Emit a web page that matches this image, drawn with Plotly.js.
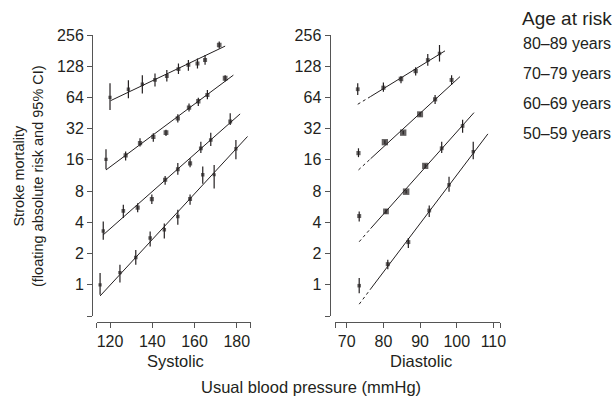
<!DOCTYPE html>
<html>
<head>
<meta charset="utf-8">
<script src="https://cdn.plot.ly/plotly-3.0.1.min.js"></script>
<style>html,body{margin:0;padding:0;background:#fff;}#chart{width:616px;height:397px;}</style>
</head>
<body>
<div id="chart"></div>
<script>
// ---------- Data ----------
var seriesNames = ["80–89 years", "70–79 years", "60–69 years", "50–59 years"];

// Systolic panel
var sysX_80 = [120, 128.7, 135.3, 141.3, 146.9, 152.4, 157.1, 161.4, 165, 171.7];
var sysY_80 = [64, 76.7, 85.8, 94.4, 103, 120, 132, 136, 147, 205];
var sysHi_80 = [87.6, 94, 105, 109, 118, 136, 147, 152, 164, 221];
var sysLo_80 = [48.5, 62.8, 70, 81.6, 91, 108, 116, 122, 132, 190];

var sysX_70 = [118.1, 127.4, 134.2, 140.5, 146.5, 152.1, 157.4, 161.8, 166.1, 174.5];
var sysY_70 = [16.2, 17.7, 23.2, 26.7, 29.3, 40.3, 51, 58.8, 67.6, 98];
var sysHi_70 = [20.3, 19.3, 25.9, 28.9, 31.3, 44, 56, 63.6, 75.6, 105];
var sysLo_70 = [13.0, 15.8, 21.5, 24.0, 27.2, 36.6, 46.8, 53, 61.4, 91];

var sysX_60 = [116.8, 126.3, 133.1, 139.8, 146.1, 152.1, 157.9, 163, 167.7, 176.9];
var sysY_60 = [3.3, 5.16, 5.55, 6.7, 10.3, 13.0, 14.8, 20.7, 24.9, 37.5];
var sysHi_60 = [4.08, 5.9, 6.1, 7.4, 11.2, 14.9, 16.6, 24, 29.3, 45];
var sysLo_60 = [2.71, 4.4, 5.0, 6.0, 9.2, 11.5, 13.6, 18.6, 21.8, 34.8];

var sysX_50 = [115.3, 124.7, 132.2, 139, 145.7, 152.1, 157.9, 163.9, 169.3, 179.6];
var sysY_50 = [1.0, 1.31, 1.83, 2.82, 3.39, 4.55, 6.7, 11.5, 11.5, 20.5];
var sysHi_50 = [1.3, 1.56, 2.17, 3.27, 3.9, 5.3, 7.4, 13.8, 14.3, 24.9];
var sysLo_50 = [0.8, 1.05, 1.56, 2.34, 2.8, 3.8, 5.9, 9.4, 8.5, 16.2];

// Systolic fitted lines (start, end)
var sysFitX_80 = [120.3, 174.5], sysFitY_80 = [59.6, 200];
var sysFitX_70 = [118.1, 178.4], sysFitY_70 = [12.8, 105];
var sysFitX_60 = [116.8, 181.6], sysFitY_60 = [3.03, 44.4];
var sysFitX_50 = [115.3, 185.1], sysFitY_50 = [0.78, 26.9];

// Diastolic panel
var diaX_80 = [73.0, 80.0, 84.8, 88.8, 92.1, 95.3];
var diaY_80 = [76.8, 79.4, 96.5, 115, 147, 170];
var diaHi_80 = [87.7, 89, 103, 125, 168, 205];
var diaLo_80 = [67.6, 72.8, 87.7, 104, 129, 142];

var diaX_70 = [73.2, 80.4, 85.4, 90.0, 94.1, 98.6];
var diaY_70 = [18.6, 23.7, 29.3, 44, 61.4, 94.4];
var diaHi_70 = [20.7, 24.7, 30.5, 46, 67.6, 105];
var diaLo_70 = [17, 22.7, 28.1, 42, 55.4, 84.4];

var diaX_60 = [73.4, 80.7, 86.2, 91.4, 95.9, 101.6];
var diaY_60 = [4.6, 5.1, 7.9, 14.0, 20.7, 34];
var diaHi_60 = [5.1, 5.35, 8.2, 14.6, 24, 38.9];
var diaLo_60 = [4.08, 4.85, 7.6, 13.4, 18.6, 29.3];

var diaX_50 = [73.4, 81.2, 86.8, 92.5, 97.9, 104.5];
var diaY_50 = [0.98, 1.58, 2.58, 5.2, 9.2, 19.2];
var diaHi_50 = [1.16, 1.74, 2.82, 5.8, 11, 24];
var diaLo_50 = [0.83, 1.41, 2.26, 4.5, 7.9, 16.2];

// Diastolic fitted lines (dashed start, solid start, end)
var diaFitX_80 = [73.0, 76.5, 96.8], diaFitY_80 = [55, 65.3, 180];
var diaFitX_70 = [73.2, 76.5, 100.9], diaFitY_70 = [12.8, 16.4, 101.6];
var diaFitX_60 = [73.4, 76.5, 104.7], diaFitY_60 = [2.6, 3.48, 45.7];
var diaFitX_50 = [73.4, 76.5, 108.5], diaFitY_50 = [0.65, 0.91, 28.5];

// Tick labels
var yTickVals = [0.5, 1, 2, 4, 8, 16, 32, 64, 128, 256];
var yTickText = ["", "1", "2", "4", "8", "16", "32", "64", "128", "256"];
var sysTickVals = [113.7, 120, 140, 160, 180, 186.6];
var sysTickText = ["", "120", "140", "160", "180", ""];
var diaTickVals = [66.8, 70, 80, 90, 100, 110, 111.8];
var diaTickText = ["", "70", "80", "90", "100", "110", ""];

// ---------- Build ----------
var W = 616, H = 397;
function fx(px) { return px / W; }
function fy(py) { return 1 - py / H; }
var INK = "#231f20";
var FONT = "Liberation Sans, Arial, Helvetica, sans-serif";

function sizes(hi, lo) {
  return hi.map(function (h, i) {
    var w = Math.log2(h / lo[i]);
    var s = 2.6 + 0.45 / Math.max(w, 0.01);
    return Math.max(3.2, Math.min(6.5, s));
  });
}

function pointTrace(x, y, hi, lo, xa, ya) {
  return {
    type: "scatter", mode: "markers", x: x, y: y, xaxis: xa, yaxis: ya,
    marker: { symbol: "square", color: INK, size: sizes(hi, lo), line: { width: 0 } },
    error_y: {
      type: "data", symmetric: false,
      array: hi.map(function (h, i) { return h - y[i]; }),
      arrayminus: lo.map(function (l, i) { return y[i] - l; }),
      color: INK, thickness: 1.2, width: 0
    },
    showlegend: false, hoverinfo: "x+y"
  };
}
function lineTrace(x, y, xa, ya, dash) {
  return {
    type: "scatter", mode: "lines", x: x, y: y, xaxis: xa, yaxis: ya,
    line: { color: INK, width: 1, dash: dash || "solid" },
    showlegend: false, hoverinfo: "skip"
  };
}

var traces = [];
var sys = [
  [sysX_80, sysY_80, sysHi_80, sysLo_80, sysFitX_80, sysFitY_80],
  [sysX_70, sysY_70, sysHi_70, sysLo_70, sysFitX_70, sysFitY_70],
  [sysX_60, sysY_60, sysHi_60, sysLo_60, sysFitX_60, sysFitY_60],
  [sysX_50, sysY_50, sysHi_50, sysLo_50, sysFitX_50, sysFitY_50]
];
sys.forEach(function (s) {
  traces.push(lineTrace(s[4], s[5], "x", "y"));
  traces.push(pointTrace(s[0], s[1], s[2], s[3], "x", "y"));
});
var dia = [
  [diaX_80, diaY_80, diaHi_80, diaLo_80, diaFitX_80, diaFitY_80],
  [diaX_70, diaY_70, diaHi_70, diaLo_70, diaFitX_70, diaFitY_70],
  [diaX_60, diaY_60, diaHi_60, diaLo_60, diaFitX_60, diaFitY_60],
  [diaX_50, diaY_50, diaHi_50, diaLo_50, diaFitX_50, diaFitY_50]
];
dia.forEach(function (s) {
  traces.push(lineTrace(s[4].slice(0, 2), s[5].slice(0, 2), "x2", "y2", "3px,3px"));
  traces.push(lineTrace(s[4].slice(1), s[5].slice(1), "x2", "y2"));
  traces.push(pointTrace(s[0], s[1], s[2], s[3], "x2", "y2"));
});

var yRange = [Math.log10(yTickVals[0]), Math.log10(yTickVals[yTickVals.length - 1])];
var yDom = [fy(316), fy(35)];
var axisCommon = {
  showline: true, linecolor: "#555", linewidth: 1,
  ticks: "outside", ticklen: 5, tickwidth: 1, tickcolor: "#555",
  showgrid: false, zeroline: false, tickmode: "array",
  tickfont: { family: FONT, size: 16, color: INK }, fixedrange: true
};
function ax(extra) { return Object.assign({}, axisCommon, extra); }

var layout = {
  width: W, height: H,
  margin: { l: 0, r: 0, t: 0, b: 0, pad: 0 },
  paper_bgcolor: "#fff", plot_bgcolor: "rgba(0,0,0,0)",
  showlegend: false,
  font: { family: FONT, color: INK },
  xaxis: ax({ domain: [fx(96.7), fx(250.7)], range: [sysTickVals[0], sysTickVals[sysTickVals.length - 1]],
    anchor: "free", position: fy(322), tickvals: sysTickVals, ticktext: sysTickText }),
  yaxis: ax({ type: "log", domain: yDom, range: yRange, anchor: "free", position: fx(92),
    tickvals: yTickVals, ticktext: yTickText }),
  xaxis2: ax({ domain: [fx(335), fx(500)], range: [diaTickVals[0], diaTickVals[diaTickVals.length - 1]],
    anchor: "free", position: fy(322), tickvals: diaTickVals, ticktext: diaTickText }),
  yaxis2: ax({ type: "log", domain: yDom, range: yRange, anchor: "free", position: fx(329.5),
    tickvals: yTickVals, ticktext: yTickText }),
  annotations: []
};

function note(text, px, py, size, xanchor, angle) {
  layout.annotations.push({
    xref: "paper", yref: "paper", x: fx(px), y: fy(py), text: text, showarrow: false,
    xanchor: xanchor || "center", yanchor: "middle", textangle: angle || 0,
    font: { family: FONT, size: size, color: INK }
  });
}
note("Systolic", 175, 361, 16.5);
note("Diastolic", 421, 361, 16.5);
note("Usual blood pressure (mmHg)", 311, 387, 16.5);
note("Stroke mortality<br>(floating absolute risk and 95% CI)", 28, 176, 14.5, "center", -90);
note("Age at risk", 520, 19, 19, "left");
var legendY = [43, 73, 103, 133];
seriesNames.forEach(function (n, i) { note(n, 521, legendY[i], 16, "left"); });

Plotly.newPlot("chart", traces, layout, { staticPlot: true, displayModeBar: false });
</script>
</body>
</html>
